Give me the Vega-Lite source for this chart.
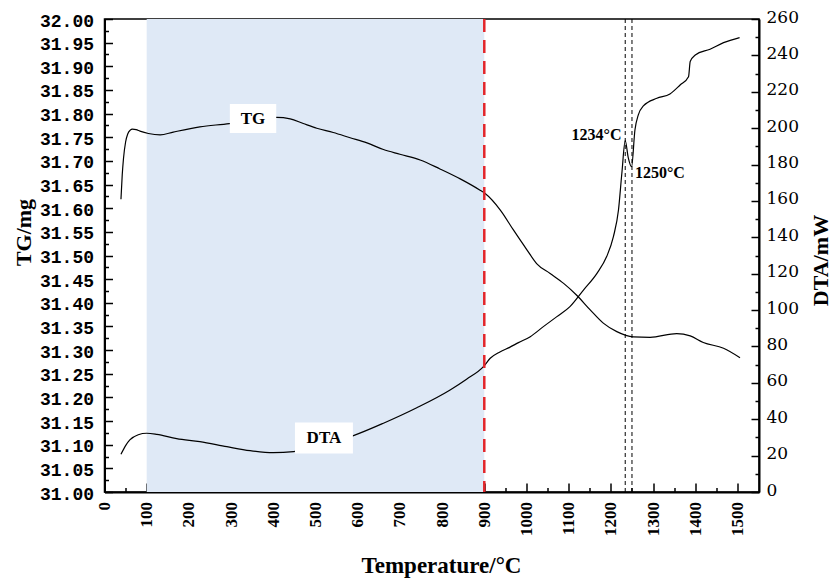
{
  "$schema": "https://vega.github.io/schema/vega-lite/v6.json",
  "width": 654.5,
  "height": 473,
  "autosize": "none",
  "padding": {"left": 104.5, "top": 19, "right": 74, "bottom": 87},
  "background": "white",
  "config": {
    "view": {"stroke": "black", "strokeWidth": 1.5},
    "font": "Liberation Serif",
    "axis": {
      "domainColor": "black",
      "domainWidth": 2,
      "tickColor": "black",
      "tickWidth": 1.5,
      "labelColor": "black",
      "titleColor": "black",
      "grid": false,
      "labelOverlap": false,
      "labelFlush": false,
      "labelBound": false,
      "titleFont": "Liberation Serif",
      "titleFontWeight": "bold",
      "titleFontSize": 22
    }
  },
  "datasets": {
    "tg": [
      {"T": 39, "TG": 31.619}, {"T": 42, "TG": 31.67}, {"T": 45, "TG": 31.705},
      {"T": 50, "TG": 31.74}, {"T": 55, "TG": 31.757}, {"T": 61, "TG": 31.765},
      {"T": 66, "TG": 31.767}, {"T": 75, "TG": 31.766}, {"T": 84, "TG": 31.763},
      {"T": 104, "TG": 31.758}, {"T": 132, "TG": 31.755}, {"T": 163, "TG": 31.761},
      {"T": 226, "TG": 31.772}, {"T": 296, "TG": 31.779}, {"T": 352, "TG": 31.787},
      {"T": 408, "TG": 31.792}, {"T": 440, "TG": 31.789}, {"T": 471, "TG": 31.779},
      {"T": 503, "TG": 31.769}, {"T": 542, "TG": 31.76}, {"T": 582, "TG": 31.749},
      {"T": 622, "TG": 31.738}, {"T": 661, "TG": 31.724}, {"T": 700, "TG": 31.714},
      {"T": 748, "TG": 31.702}, {"T": 795, "TG": 31.683}, {"T": 843, "TG": 31.662},
      {"T": 890, "TG": 31.638}, {"T": 902, "TG": 31.631}, {"T": 938, "TG": 31.596},
      {"T": 969, "TG": 31.554}, {"T": 1001, "TG": 31.512}, {"T": 1024, "TG": 31.483},
      {"T": 1056, "TG": 31.462}, {"T": 1088, "TG": 31.441}, {"T": 1119, "TG": 31.416},
      {"T": 1151, "TG": 31.385}, {"T": 1182, "TG": 31.357}, {"T": 1214, "TG": 31.339},
      {"T": 1253, "TG": 31.328}, {"T": 1293, "TG": 31.327}, {"T": 1356, "TG": 31.335},
      {"T": 1388, "TG": 31.33}, {"T": 1419, "TG": 31.316}, {"T": 1467, "TG": 31.304},
      {"T": 1506, "TG": 31.284}
    ],
    "dta": [
      {"T": 39, "DTA": 20.7}, {"T": 50, "DTA": 25.5}, {"T": 60, "DTA": 28.6},
      {"T": 80, "DTA": 31.5}, {"T": 100, "DTA": 32.3}, {"T": 124, "DTA": 31.7},
      {"T": 171, "DTA": 29.3}, {"T": 226, "DTA": 27.7}, {"T": 290, "DTA": 24.9},
      {"T": 345, "DTA": 22.7}, {"T": 400, "DTA": 21.6}, {"T": 448, "DTA": 22.2},
      {"T": 520, "DTA": 26}, {"T": 590, "DTA": 31}, {"T": 661, "DTA": 37.8},
      {"T": 740, "DTA": 46.3}, {"T": 819, "DTA": 56.1}, {"T": 858, "DTA": 62},
      {"T": 898, "DTA": 68.9}, {"T": 914, "DTA": 73.5}, {"T": 937, "DTA": 77},
      {"T": 960, "DTA": 79.5}, {"T": 981, "DTA": 82.1}, {"T": 1009, "DTA": 85.4},
      {"T": 1040, "DTA": 90.9}, {"T": 1072, "DTA": 96.4}, {"T": 1103, "DTA": 101.9},
      {"T": 1135, "DTA": 111}, {"T": 1167, "DTA": 120.2}, {"T": 1190, "DTA": 129.4},
      {"T": 1206, "DTA": 140.4}, {"T": 1218, "DTA": 155}, {"T": 1226, "DTA": 175.2},
      {"T": 1234, "DTA": 193.1}, {"T": 1241, "DTA": 184}, {"T": 1249, "DTA": 178.8},
      {"T": 1257, "DTA": 199}, {"T": 1265, "DTA": 207.3}, {"T": 1277, "DTA": 212.2},
      {"T": 1309, "DTA": 216.4}, {"T": 1340, "DTA": 218.8}, {"T": 1364, "DTA": 223.7},
      {"T": 1384, "DTA": 228.3}, {"T": 1388, "DTA": 236.6}, {"T": 1400, "DTA": 240.2},
      {"T": 1435, "DTA": 243.4}, {"T": 1467, "DTA": 247}, {"T": 1505, "DTA": 249.8}
    ],
    "band": [{"T": 100, "T2": 900}],
    "limit": [{"T": 900}],
    "peaks": [{"T": 1234}, {"T": 1250}],
    "tgLabel": [{"T": 352, "TG": 31.7896, "label": "TG"}],
    "dtaLabel": [{"T": 520, "DTA": 29.7, "label": "DTA"}],
    "notes": [
      {"T": 1225, "DTA": 196, "label": "1234°C", "side": "left"},
      {"T": 1257, "DTA": 175.4, "label": "1250°C", "side": "right"}
    ]
  },
  "encoding": {
    "x": {
      "field": "T",
      "type": "quantitative",
      "title": "Temperature/°C",
      "scale": {"domain": [0, 1551], "nice": false, "zero": false},
      "axis": {
        "values": [0, 50, 100, 150, 200, 250, 300, 350, 400, 450, 500, 550, 600, 650, 700, 750, 800, 850, 900, 950, 1000, 1050, 1100, 1150, 1200, 1250, 1300, 1350, 1400, 1450, 1500],
        "labelExpr": "datum.value % 100 == 0 ? datum.label : ''",
        "format": "d",
        "tickSize": {"expr": "datum.value % 100 == 0 ? -9 : -4.5"},
        "labelPadding": 18.5,
        "labelAngle": 270,
        "labelAlign": "right",
        "labelBaseline": "middle",
        "labelFont": "Liberation Serif",
        "labelFontWeight": "bold",
        "labelFontSize": 17,
        "titleFontSize": 23,
        "titleX": 336.5,
        "titleY": 73,
        "titleBaseline": "middle",
        "titleAlign": "center"
      }
    }
  },
  "layer": [
    {
      "data": {"name": "band"},
      "mark": {"type": "rect", "color": "#dfe9f6"},
      "encoding": {"x2": {"field": "T2"}}
    },
    {
      "encoding": {
        "y": {
          "field": "TG",
          "type": "quantitative",
          "title": "TG/mg",
          "scale": {"domain": [31, 32], "nice": false, "zero": false},
          "axis": {
            "orient": "left",
            "values": [31, 31.025, 31.05, 31.075, 31.1, 31.125, 31.15, 31.175, 31.2, 31.225, 31.25, 31.275, 31.3, 31.325, 31.35, 31.375, 31.4, 31.425, 31.45, 31.475, 31.5, 31.525, 31.55, 31.575, 31.6, 31.625, 31.65, 31.675, 31.7, 31.725, 31.75, 31.775, 31.8, 31.825, 31.85, 31.875, 31.9, 31.925, 31.95, 31.975, 32],
            "format": ".2f",
            "labelExpr": "round(datum.value * 1000) % 50 == 0 ? datum.label : ''",
            "tickSize": {"expr": "round(datum.value * 1000) % 50 == 0 ? -8 : -4"},
            "labelPadding": 19,
            "labelOffset": 2,
            "labelFont": "Liberation Mono",
            "labelFontWeight": "bold",
            "labelFontSize": 18,
            "titleAngle": 270,
            "titleX": -81.5,
            "titleY": 213,
            "titleBaseline": "middle",
            "titleAlign": "center"
          }
        }
      },
      "layer": [
        {
          "data": {"name": "tg"},
          "mark": {"type": "line", "color": "black", "strokeWidth": 1.2, "interpolate": "monotone"}
        },
        {
          "data": {"name": "tgLabel"},
          "mark": {"type": "point", "shape": "M-1.6,-1H1.6V1H-1.6Z", "filled": true, "color": "white", "opacity": 1, "size": 841}
        },
        {
          "data": {"name": "tgLabel"},
          "mark": {"type": "text", "font": "Liberation Serif", "fontWeight": "bold", "fontSize": 17, "color": "black", "baseline": "middle", "align": "center"},
          "encoding": {"text": {"field": "label"}}
        }
      ]
    },
    {
      "encoding": {
        "y": {
          "field": "DTA",
          "type": "quantitative",
          "title": "DTA/mW",
          "scale": {"domain": [0, 260], "nice": false, "zero": false},
          "axis": {
            "orient": "right",
            "values": [0, 10, 20, 30, 40, 50, 60, 70, 80, 90, 100, 110, 120, 130, 140, 150, 160, 170, 180, 190, 200, 210, 220, 230, 240, 250, 260],
            "labelExpr": "datum.value % 20 == 0 ? datum.label : ''",
            "tickSize": {"expr": "datum.value % 20 == 0 ? -8 : -4"},
            "labelPadding": 15,
            "labelOffset": -2,
            "labelFont": "DejaVu Serif",
            "labelFontSize": 17,
            "titleAngle": 270,
            "titleX": 61,
            "titleY": 241,
            "titleBaseline": "middle",
            "titleAlign": "center"
          }
        }
      },
      "layer": [
        {
          "data": {"name": "dta"},
          "mark": {"type": "line", "color": "black", "strokeWidth": 1.2, "interpolate": "monotone"}
        },
        {
          "data": {"name": "dtaLabel"},
          "mark": {"type": "point", "shape": "M-1.87,-1H1.87V1H-1.87Z", "filled": true, "color": "white", "opacity": 1, "size": 961}
        },
        {
          "data": {"name": "dtaLabel"},
          "mark": {"type": "text", "font": "Liberation Serif", "fontWeight": "bold", "fontSize": 17, "color": "black", "baseline": "middle", "align": "center"},
          "encoding": {"text": {"field": "label"}}
        },
        {
          "data": {"name": "notes"},
          "transform": [{"filter": "datum.side == 'left'"}],
          "mark": {"type": "text", "font": "Liberation Serif", "fontWeight": "bold", "fontSize": 16, "color": "black", "baseline": "middle", "align": "right"},
          "encoding": {"text": {"field": "label"}}
        },
        {
          "data": {"name": "notes"},
          "transform": [{"filter": "datum.side == 'right'"}],
          "mark": {"type": "text", "font": "Liberation Serif", "fontWeight": "bold", "fontSize": 16, "color": "black", "baseline": "middle", "align": "left"},
          "encoding": {"text": {"field": "label"}}
        }
      ]
    },
    {
      "data": {"name": "limit"},
      "mark": {"type": "rule", "color": "#e3262b", "strokeWidth": 2.5, "strokeDash": [13, 8]}
    },
    {
      "data": {"name": "peaks"},
      "mark": {"type": "rule", "color": "black", "strokeWidth": 1, "strokeDash": [4, 3]}
    }
  ],
  "resolve": {"scale": {"y": "independent"}}
}
